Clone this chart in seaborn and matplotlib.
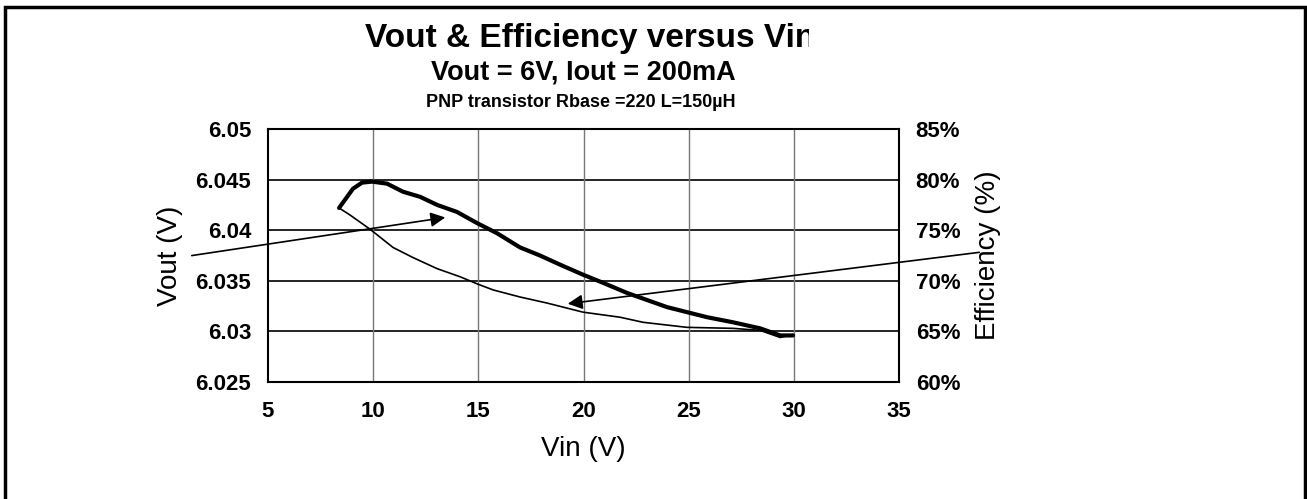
import matplotlib
matplotlib.use("Agg")
import matplotlib.pyplot as plt
import matplotlib.patches as patches
from matplotlib.ticker import FuncFormatter, MultipleLocator
from matplotlib.transforms import Bbox
import seaborn as sns
import pandas as pd

# Vout curve (left axis)
vin_vout = [8.38, 9.04, 9.47, 9.95, 10.66, 11.42, 12.23, 13.04, 13.99, 14.94, 15.89,
            16.98, 17.93, 18.88, 19.98, 20.93, 22.07, 23.97, 25.88, 27.11, 28.40, 29.35, 29.96]
vout = [6.0422, 6.0441, 6.0447, 6.0448, 6.0446, 6.0438, 6.0433, 6.0425, 6.0418, 6.0407, 6.0397,
        6.0383, 6.0375, 6.0366, 6.0356, 6.0348, 6.0338, 6.0324, 6.0314, 6.0309, 6.0303, 6.0296, 6.0296]

# Efficiency curve (right axis, %)
vin_eff = [8.38, 8.90, 9.85, 10.94, 11.89, 13.04, 14.13, 14.94, 15.70, 16.98, 18.27,
           19.98, 21.74, 22.83, 24.92, 27.11, 28.40, 29.35, 29.96]
efficiency = [77.2, 76.5, 75.1, 73.3, 72.3, 71.2, 70.4, 69.7, 69.1, 68.4, 67.8,
              66.9, 66.4, 65.9, 65.4, 65.3, 65.1, 64.4, 64.7]

x_ticks = [5, 10, 15, 20, 25, 30, 35]

sns.set_style("white")
plt.rcParams["font.family"] = ["Liberation Sans", "DejaVu Sans"]
plt.rcParams.update({"text.color": "black", "axes.labelcolor": "black",
                     "xtick.color": "black", "ytick.color": "black"})

df_vout = pd.DataFrame({"Vin": vin_vout, "Vout": vout})
df_eff = pd.DataFrame({"Vin": vin_eff, "Eff": efficiency})

fig = plt.figure(figsize=(13.07, 4.99), dpi=100)
ax = fig.add_axes([268 / 1307, 1 - 382 / 499, 631 / 1307, 253 / 499])
ax2 = ax.twinx()

# gridlines
for xv in x_ticks[1:-1]:
    ax.axvline(xv, color="#777777", lw=1.0, zorder=1)
ax.yaxis.grid(True, color="black", lw=1.2)
ax.set_axisbelow(True)

sns.lineplot(data=df_vout, x="Vin", y="Vout", ax=ax, color="black", lw=3.0, sort=False,
             estimator=None, zorder=3)
sns.lineplot(data=df_eff, x="Vin", y="Eff", ax=ax2, color="black", lw=1.2, sort=False,
             estimator=None, zorder=3)

ax.set_xlim(5, 35)
ax.set_ylim(6.025, 6.05)
ax2.set_ylim(60, 85)
ax.xaxis.set_major_locator(MultipleLocator(5))
ax.yaxis.set_major_locator(MultipleLocator(0.005))
ax2.yaxis.set_major_locator(MultipleLocator(5))
ax.yaxis.set_major_formatter(FuncFormatter(lambda v, p: f"{v:.3f}".rstrip("0").rstrip(".")))
ax2.yaxis.set_major_formatter(FuncFormatter(lambda v, p: f"{v:.0f}%"))

ax.tick_params(axis="both", length=0, labelsize=16, pad=12)
ax.tick_params(axis="x", pad=14)
ax2.tick_params(axis="y", length=0, labelsize=16, pad=12)
for lab in ax.get_xticklabels() + ax.get_yticklabels() + ax2.get_yticklabels():
    lab.set_fontweight("bold")

for sp in ax.spines.values():
    sp.set_color("black")
    sp.set_linewidth(1.5)
for sp in ax2.spines.values():
    sp.set_visible(False)

ax.set_xlabel("Vin (V)", fontsize=20)
ax.set_ylabel("Vout (V)", fontsize=20)
ax2.set_ylabel("Efficiency (%)", fontsize=20)
ax.xaxis.set_label_coords(0.5, -0.215)
ax.yaxis.set_label_coords(-0.135, 0.5)
ax2.yaxis.set_label_coords(1.12, 0.5)

# titles (the first line is cut off at the right in the original)
t1 = fig.text(590 / 1307, 1 - 47 / 499, "Vout & Efficiency versus Vin", ha="center",
              va="baseline", fontsize=24, fontweight="bold")
t1.set_clip_box(Bbox.from_extents(0, 0, 809, 499))
t1.set_clip_on(True)
fig.text(583 / 1307, 1 - 80 / 499, "Vout = 6V, Iout = 200mA", ha="center", va="baseline",
         fontsize=19.5, fontweight="bold")
fig.text(581 / 1307, 1 - 107 / 499, "PNP transistor Rbase =220 L=150µH", ha="center",
         va="baseline", fontsize=13, fontweight="bold")

# callout arrows
ax.annotate("", xy=(13.56, 6.0413), xycoords="data",
            xytext=(189 / 1307, 1 - 256 / 499), textcoords="figure fraction",
            arrowprops=dict(arrowstyle="-|>", color="black", lw=1.2, mutation_scale=22),
            annotation_clip=False, zorder=5)
ax2.annotate("", xy=(19.12, 67.7), xycoords="data",
             xytext=(982 / 1307, 1 - 252 / 499), textcoords="figure fraction",
             arrowprops=dict(arrowstyle="-|>", color="black", lw=1.2, mutation_scale=22),
             annotation_clip=False, zorder=5)

# outer frame
fig.patches.append(patches.Rectangle((4.5 / 1307, -0.02), 1300 / 1307, 1 - 6.5 / 499 + 0.02,
                                     transform=fig.transFigure, fill=False, lw=2.5,
                                     edgecolor="black"))

fig.savefig("out.png", dpi=100)
